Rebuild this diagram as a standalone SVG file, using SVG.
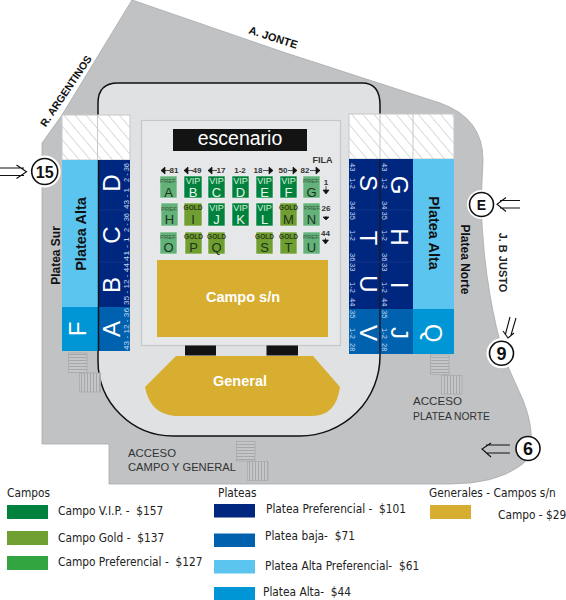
<svg xmlns="http://www.w3.org/2000/svg" width="566" height="600" viewBox="0 0 566 600">
<style>
text{font-family:"Liberation Sans",Arial,sans-serif}
.leg{font-family:"DejaVu Sans Condensed","DejaVu Sans",sans-serif;font-size:11.8px;fill:#222;white-space:pre}
.tile{stroke:#e8f0e8;stroke-width:.6}
.vip{fill:#00823e}.gold{fill:#6f9f30}.pref{fill:#62b27a}
.t1{font-size:9px;text-anchor:middle;fill:#d8efd8}
.t2{font-size:6.5px;font-weight:bold;text-anchor:middle;fill:#2c3a18}
.t3{font-size:6px;text-anchor:middle;fill:#3c5a40}
.l1{font-size:13px;text-anchor:middle;fill:#e8f5e8}
.l2{font-size:13px;text-anchor:middle;fill:#20301c}
.n{font-size:8px;font-weight:bold;text-anchor:middle;fill:#333}
.seat{font-size:7.5px;fill:#c4d6f0}
.big{font-size:24px;fill:#fff;text-anchor:middle}
.blk{font-weight:bold;fill:#111;text-anchor:middle}
.acc{font-size:11.5px;fill:#333}
.arrow{fill:none;stroke:#111;stroke-width:1.1}
.ring{fill:#fff;stroke:#111;stroke-width:1.6}
.halo{fill:#fff}
.num{font-size:16px;font-weight:bold;text-anchor:middle;fill:#111}
.stair{stroke:#a9abad;stroke-width:.8}
</style>
<defs>
<pattern id="hatch" width="8.500" height="12" patternUnits="userSpaceOnUse" patternTransform="rotate(-40)">
<rect width="8.500" height="12" fill="#fff"/><line x1="0" y1="0" x2="0" y2="12" stroke="#c6c7c9" stroke-width="1.300"/>
</pattern>
<pattern id="hs" width="3" height="3" patternUnits="userSpaceOnUse"><rect width="3" height="3" fill="#c4c6c8"/><rect width="3" height="1" fill="#a5a7a9"/></pattern>
<pattern id="vs" width="3" height="3" patternUnits="userSpaceOnUse"><rect width="3" height="3" fill="#c4c6c8"/><rect width="1" height="3" fill="#a5a7a9"/></pattern>
</defs>

<g id="ground">
<path d="M132 0L283 52L440 103Q483 118 483 160L481 205Q483 255 490 295Q495 325 505 360L523 400Q530 418 531 432Q534 458 520 466Q495 484 450 484L109 484L109 444L42 444L42 143L62 115Z" fill="#c0c2c4" stroke="#a8aaac" stroke-width=".8"/>
</g>
<g id="arena">
<path d="M98 115V103Q98 83 118 83H362Q380 83 380 105V356A80 80 0 0 1 300 436H173A75 75 0 0 1 98 361Z" fill="#e0e1e3" stroke="#111" stroke-width="1.500"/>
<rect x="141.500" y="120.500" width="199" height="225" fill="#e6e7e8" stroke="#c6c7c9" stroke-width="1.200"/>
</g>
<g id="escenario"><rect x="173" y="129" width="134" height="22" fill="#131313"/><text x="240" y="145" font-size="19.500" fill="#fff" text-anchor="middle">escenario</text></g>

<g id="hatch-areas">
<rect x="62" y="115" width="68" height="45" fill="url(#hatch)" stroke="#c6c7c9"/><line x1="97.500" y1="115" x2="97.500" y2="160" stroke="#c6c7c9"/>
<rect x="349" y="114" width="105" height="45" fill="url(#hatch)" stroke="#c6c7c9"/><line x1="380" y1="114" x2="380" y2="159" stroke="#c6c7c9"/><line x1="413" y1="114" x2="413" y2="159" stroke="#c6c7c9"/>
</g>

<g id="platea-sur">
<rect x="62" y="160" width="36" height="147" fill="#5bc5ef"/>
<rect x="62" y="307" width="36" height="44" fill="#0095d5"/>
<rect x="98" y="160" width="32" height="147" fill="#00277f"/>
<rect x="98" y="307" width="32" height="44" fill="#0062ae"/>
<line x1="98.500" y1="160" x2="98.500" y2="351" stroke="#111" stroke-width="1.500"/>
<line x1="99" y1="210" x2="130" y2="210" stroke="#1b3d8e" stroke-width=".6"/><line x1="99" y1="262" x2="130" y2="262" stroke="#1b3d8e" stroke-width=".6"/>
<text transform="translate(85.500,234) rotate(-90)" class="blk" font-size="14.500">Platea Alta</text>
<text transform="translate(85.500,329) rotate(-90)" class="big">F</text>
<text transform="translate(120,183) rotate(-90)" class="big">D</text>
<text transform="translate(120,235) rotate(-90)" class="big">C</text>
<text transform="translate(120,285) rotate(-90)" class="big">B</text>
<text transform="translate(120,329) rotate(-90)" class="big">A</text>
<text transform="translate(129,209) rotate(-90)" class="seat" textLength="21" lengthAdjust="spacingAndGlyphs">43 - 1</text>
<text transform="translate(129,182) rotate(-90)" class="seat" textLength="19" lengthAdjust="spacingAndGlyphs">2 - 36</text>
<text transform="translate(129,261) rotate(-90)" class="seat" textLength="24" lengthAdjust="spacingAndGlyphs">41 - 1</text>
<text transform="translate(129,232) rotate(-90)" class="seat" textLength="19" lengthAdjust="spacingAndGlyphs">2 - 36</text>
<text transform="translate(129,305) rotate(-90)" class="seat" textLength="42" lengthAdjust="spacingAndGlyphs">35 - 12 - 44</text>
<text transform="translate(129,350) rotate(-90)" class="seat" textLength="42" lengthAdjust="spacingAndGlyphs">43 - 12 - 36</text>
</g>

<g id="platea-norte">
<rect x="349" y="159" width="64" height="150" fill="#00277f"/>
<rect x="349" y="309" width="64" height="45" fill="#0062ae"/>
<rect x="413" y="159" width="41" height="150" fill="#5bc5ef"/>
<rect x="413" y="309" width="41" height="45" fill="#0095d5"/>
<line x1="380" y1="159" x2="380" y2="354" stroke="#1a1a2a" stroke-width="1.500"/>
<line x1="349" y1="210" x2="413" y2="210" stroke="#1b3d8e" stroke-width=".6"/><line x1="349" y1="262" x2="413" y2="262" stroke="#1b3d8e" stroke-width=".6"/>
<text transform="translate(429,233) rotate(90)" class="blk" font-size="14.500">Platea Alta</text>
<text transform="translate(360,183) rotate(90)" class="big">S</text>
<text transform="translate(360,238) rotate(90)" class="big">T</text>
<text transform="translate(360,284) rotate(90)" class="big">U</text>
<text transform="translate(360,333) rotate(90)" class="big">V</text>
<text transform="translate(391,185) rotate(90)" class="big">G</text>
<text transform="translate(391,237) rotate(90)" class="big">H</text>
<text transform="translate(391,285) rotate(90)" class="big">I</text>
<text transform="translate(391,333) rotate(90)" class="big">J</text>
<text transform="translate(425,333) rotate(90)" class="big">Q</text>
<g id="seats-1" class="seat">
<text transform="translate(350,163) rotate(90)">43</text><text transform="translate(350,178) rotate(90)">1-2</text><text transform="translate(350,201) rotate(90)">34</text><text transform="translate(350,211.500) rotate(90)">35</text><text transform="translate(350,230) rotate(90)">1-2</text><text transform="translate(350,253) rotate(90)">36</text><text transform="translate(350,263) rotate(90)">33</text><text transform="translate(350,282) rotate(90)">1-2</text><text transform="translate(350,298) rotate(90)">44</text><text transform="translate(350,310) rotate(90)">35</text><text transform="translate(350,328) rotate(90)">1-2</text><text transform="translate(350,343) rotate(90)">28</text>
</g>
<g id="seats-2" class="seat">
<text transform="translate(382,163) rotate(90)">43</text><text transform="translate(382,178) rotate(90)">1-2</text><text transform="translate(382,201) rotate(90)">34</text><text transform="translate(382,211.500) rotate(90)">35</text><text transform="translate(382,230) rotate(90)">1-2</text><text transform="translate(382,253) rotate(90)">36</text><text transform="translate(382,263) rotate(90)">33</text><text transform="translate(382,282) rotate(90)">1-2</text><text transform="translate(382,298) rotate(90)">44</text><text transform="translate(382,310) rotate(90)">35</text><text transform="translate(382,328) rotate(90)">1-2</text><text transform="translate(382,343) rotate(90)">28</text>
</g>
</g>

<g id="campo-tiles">
<g id="tile-A"><rect class="tile pref" x="160" y="176" width="17" height="22"/><text class="t3" x="168.500" y="183">PREF.</text><text class="l2" x="168.500" y="196.500">A</text></g>
<g id="tile-B"><rect class="tile vip" x="184" y="176" width="18" height="22"/><text class="t1" x="193" y="184">VIP</text><text class="l1" x="193" y="196.500">B</text></g>
<g id="tile-C"><rect class="tile vip" x="208" y="176" width="17" height="22"/><text class="t1" x="216.500" y="184">VIP</text><text class="l1" x="216.500" y="196.500">C</text></g>
<g id="tile-D"><rect class="tile vip" x="232" y="176" width="17" height="22"/><text class="t1" x="240.500" y="184">VIP</text><text class="l1" x="240.500" y="196.500">D</text></g>
<g id="tile-E"><rect class="tile vip" x="256" y="176" width="17" height="22"/><text class="t1" x="264.500" y="184">VIP</text><text class="l1" x="264.500" y="196.500">E</text></g>
<g id="tile-F"><rect class="tile vip" x="280" y="176" width="17" height="22"/><text class="t1" x="288.500" y="184">VIP</text><text class="l1" x="288.500" y="196.500">F</text></g>
<g id="tile-G"><rect class="tile pref" x="303" y="176" width="17" height="22"/><text class="t3" x="311.500" y="183">PREF.</text><text class="l2" x="311.500" y="196.500">G</text></g>
<g id="tile-H"><rect class="tile pref" x="161" y="203" width="17" height="23"/><text class="t3" x="169.500" y="210.500">PREF.</text><text class="l2" x="169.500" y="224">H</text></g>
<g id="tile-I"><rect class="tile gold" x="184" y="203" width="18" height="23"/><text class="t2" x="193" y="209.500">GOLD</text><text class="l2" x="193" y="224">I</text></g>
<g id="tile-J"><rect class="tile vip" x="208" y="203" width="17" height="23"/><text class="t1" x="216.500" y="211">VIP</text><text class="l1" x="216.500" y="224">J</text></g>
<g id="tile-K"><rect class="tile vip" x="232" y="203" width="17" height="23"/><text class="t1" x="240.500" y="211">VIP</text><text class="l1" x="240.500" y="224">K</text></g>
<g id="tile-L"><rect class="tile vip" x="256" y="203" width="17" height="23"/><text class="t1" x="264.500" y="211">VIP</text><text class="l1" x="264.500" y="224">L</text></g>
<g id="tile-M"><rect class="tile gold" x="280" y="203" width="17" height="23"/><text class="t2" x="288.500" y="209.500">GOLD</text><text class="l2" x="288.500" y="224">M</text></g>
<g id="tile-N"><rect class="tile pref" x="303" y="203" width="17" height="23"/><text class="t3" x="312.500" y="209.500">PREF.</text><text class="l2" x="311.500" y="224">N</text></g>
<g id="tile-O"><rect class="tile pref" x="160" y="232" width="17" height="22"/><text class="t3" x="168.500" y="238.500">PREF.</text><text class="l2" x="168.500" y="252">O</text></g>
<g id="tile-P"><rect class="tile gold" x="185" y="232" width="17" height="22"/><text class="t2" x="193.500" y="238.500">GOLD</text><text class="l2" x="193.500" y="252">P</text></g>
<g id="tile-Q"><rect class="tile gold" x="208" y="232" width="17" height="22"/><text class="t2" x="216.500" y="238.500">GOLD</text><text class="l2" x="216.500" y="252">Q</text></g>
<g id="tile-S"><rect class="tile gold" x="256" y="232" width="17" height="22"/><text class="t2" x="264.500" y="238.500">GOLD</text><text class="l2" x="264.500" y="252">S</text></g>
<g id="tile-T"><rect class="tile gold" x="280" y="232" width="17" height="22"/><text class="t2" x="288.500" y="238.500">GOLD</text><text class="l2" x="288.500" y="252">T</text></g>
<g id="tile-U"><rect class="tile pref" x="303" y="232" width="17" height="22"/><text class="t3" x="311.500" y="238.500">PREF.</text><text class="l2" x="311.500" y="252">U</text></g>
</g>

<g id="row-labels">
<path d="M161 170.500l4-3.500v7zM165 170.500h5M184 170.500l4-3.500v7zM188 170.500h5M208 170.500l4-3.500v7zM212 170.500h5M263 170.500h6M269 167l4 3.500-4 3.500zM288 170.500h5M293 167l4 3.500-4 3.500zM310 170.500h6M316 167l4 3.500-4 3.500z" fill="#111" stroke="#111" stroke-width=".7"/>
<text class="n" x="174" y="173">81</text><text class="n" x="197" y="173">49</text><text class="n" x="221" y="173">17</text><text class="n" x="240" y="173">1-2</text><text class="n" x="258" y="173">18</text><text class="n" x="283" y="173">50</text><text class="n" x="305" y="173">82</text>
<text x="322.500" y="163" font-size="9" font-weight="bold" fill="#333" text-anchor="middle">FILA</text>
<text class="n" x="326" y="185">1</text><text class="n" x="326" y="210.500">26</text><text class="n" x="325.500" y="235.500">44</text>
<path d="M326 186v4M323 190h6l-3 4zM326 216v1M323 217h6l-3 3zM325.500 238v2M322.500 240h6l-3 4z" fill="#111" stroke="#111" stroke-width=".7"/>
</g>

<g id="campo"><rect x="157" y="260" width="171" height="77" fill="#d7ae2f"/><text x="243" y="302" font-size="14.500" font-weight="bold" fill="#fff" text-anchor="middle">Campo s/n</text></g>
<g id="bars"><rect x="185" y="345.500" width="31" height="10" fill="#131313"/><rect x="266.500" y="345.500" width="31.500" height="10" fill="#131313"/></g>
<g id="general"><path d="M176 356L313 356L340 387Q336 416 312 416L175 416Q150 414 145 387Z" fill="#d7ae2f"/><text x="240" y="386" font-size="14.500" font-weight="bold" fill="#fff" text-anchor="middle">General</text></g>

<g id="stairs">
<rect class="stair" x="68.500" y="353" width="18.500" height="19.500" fill="url(#hs)"/><rect class="stair" x="79.500" y="373" width="21" height="19" fill="url(#vs)"/>
<rect class="stair" x="236.500" y="441.500" width="18.500" height="19.500" fill="url(#hs)"/><rect class="stair" x="247.500" y="461.500" width="20.500" height="19" fill="url(#vs)"/>
<rect class="stair" x="430.500" y="355" width="18.500" height="19.500" fill="url(#hs)"/><rect class="stair" x="441.500" y="375.500" width="20.500" height="18.500" fill="url(#vs)"/>
</g>
<g id="labels">
<text class="acc" x="128" y="456.500" textLength="48" lengthAdjust="spacingAndGlyphs">ACCESO</text><text class="acc" x="128" y="471" textLength="108" lengthAdjust="spacingAndGlyphs">CAMPO Y GENERAL</text>
<text class="acc" x="413" y="405" textLength="49" lengthAdjust="spacingAndGlyphs">ACCESO</text><text class="acc" x="413" y="420" textLength="77" lengthAdjust="spacingAndGlyphs">PLATEA NORTE</text>
<text transform="translate(272,41) rotate(18)" font-size="11" font-weight="bold" fill="#111" text-anchor="middle">A. JONTE</text>
<text transform="translate(69,93) rotate(-56)" font-size="10.500" font-weight="bold" fill="#111" text-anchor="middle">R. ARGENTINOS</text>
<text transform="translate(60,255.500) rotate(-90)" class="blk" font-size="12">Platea Sur</text>
<text transform="translate(461,259.500) rotate(90)" class="blk" font-size="12">Platea Norte</text>
<text transform="translate(499,262.500) rotate(90)" font-size="11" font-weight="bold" fill="#222" text-anchor="middle">J. B JUSTO</text>
</g>

<g id="gate-15"><circle class="halo" cx="44.700" cy="171.500" r="16"/><circle class="ring" cx="44.700" cy="171.500" r="13"/><text class="num" x="44.700" y="177.500">15</text><path class="arrow" d="M0 168H24M0 175.500H24M16.500 165L26.500 171.700L16.500 178.500"/></g>
<g id="gate-E"><circle class="halo" cx="481.500" cy="204.500" r="14.500"/><circle class="ring" cx="481.500" cy="204.500" r="12"/><text class="num" x="481.500" y="209.500" style="font-size:14px">E</text><path class="arrow" d="M520 200.500H500M520 208H500M506 197.500L497 204.300L506 211.500"/></g>
<g id="gate-9"><circle class="halo" cx="501.500" cy="353.300" r="15"/><circle class="ring" cx="501.500" cy="353.300" r="12"/><text class="num" x="501.500" y="359.500" style="font-size:18px">9</text><path class="arrow" d="M510 317L505.500 334M516 318L511 335M503 331L508 338L514 333"/></g>
<g id="gate-6"><circle class="ring" cx="528" cy="448.500" r="12"/><text class="num" x="528" y="454.700" style="font-size:18px">6</text><path class="arrow" d="M510 445H486M510 453H486M491 443L482 449L491 457"/></g>

<g id="legend">
<text class="leg" x="7" y="497">Campos</text>
<rect x="7" y="505" width="41" height="14" fill="#00823e"/><text class="leg" x="58" y="515">Campo V.I.P. -  $157</text>
<rect x="7" y="531" width="41" height="14" fill="#6f9f30"/><text class="leg" x="58" y="541.500">Campo Gold -  $137</text>
<rect x="7" y="556" width="41" height="14" fill="#33a540"/><text class="leg" x="58" y="566">Campo Preferencial -  $127</text>
<text class="leg" x="218" y="497">Plateas</text>
<rect x="214" y="504" width="41" height="13.500" fill="#00277f"/><text class="leg" x="266" y="513">Platea Preferencial -  $101</text>
<rect x="214" y="533.500" width="41" height="13.500" fill="#0062ae"/><text class="leg" x="265" y="540">Platea baja-  $71</text>
<rect x="214" y="560" width="41" height="13.500" fill="#5bc5ef"/><text class="leg" x="265" y="570">Platea Alta Preferencial-  $61</text>
<rect x="214" y="587" width="41" height="13" fill="#0095d5"/><text class="leg" x="263" y="596">Platea Alta-  $44</text>
<text class="leg" x="429" y="497">Generales - Campos s/n</text>
<rect x="430" y="505" width="41" height="14" fill="#d7ae2f"/><text class="leg" x="498" y="519">Campo - $29</text>
</g>
</svg>
